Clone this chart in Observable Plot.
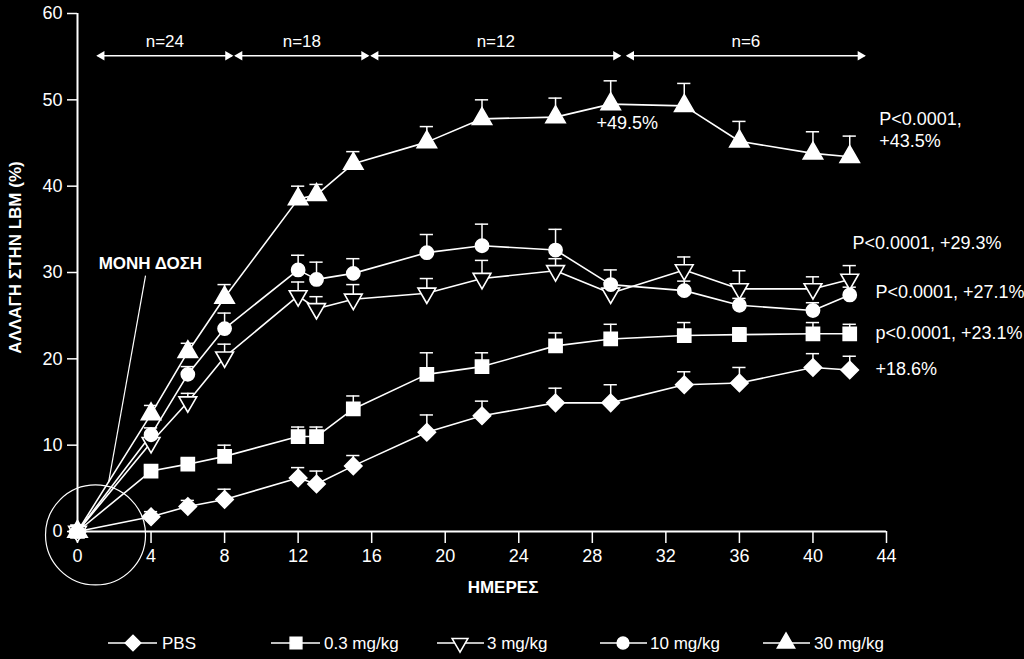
<!DOCTYPE html>
<html>
<head>
<meta charset="utf-8">
<script src="https://cdn.jsdelivr.net/npm/d3@7"></script>
<script src="https://cdn.jsdelivr.net/npm/@observablehq/plot@0.6"></script>
<style>
  html, body { margin: 0; padding: 0; background: #000; }
  #wrap { width: 1024px; height: 659px; position: relative; background: #000; overflow: hidden; }
  #legend { position: absolute; left: 0; top: 610px; }
</style>
</head>
<body>
<div id="wrap"><div id="chart"></div><div id="legend"></div></div>
<script>
// ---------- data ----------
const days = [0, 4, 6, 8, 12, 13, 15, 19, 22, 26, 29, 33, 36, 40, 42];
const seriesNames = ["PBS", "0.3 mg/kg", "3 mg/kg", "10 mg/kg", "30 mg/kg"];
const pbs      = [0, 1.7, 2.9, 3.7, 6.2, 5.5, 7.6, 11.5, 13.4, 14.9, 14.9, 17.0, 17.2, 19.0, 18.7];
const pbsErr   = [0, 2.3, 3.6, 4.9, 7.4, 7.0, 8.8, 13.5, 15.1, 16.6, 17.0, 18.5, 19.0, 20.6, 20.3];
const dose03    = [0, 7.0, 7.8, 8.7, 11.0, 11.0, 14.2, 18.2, 19.1, 21.5, 22.3, 22.7, 22.8, 22.9, 22.9];
const dose03Err = [0, 7.6, 8.4, 10.0, 12.1, 12.1, 15.7, 20.7, 20.7, 23.0, 24.0, 24.2, 23.6, 24.2, 24.0];
const dose3    = [0, 10.3, 15.0, 20.2, 27.3, 25.8, 26.9, 27.6, 29.3, 30.2, 27.6, 30.3, 28.1, 28.1, 29.2];
const dose3Err = [0, 11.0, 16.0, 21.7, 28.9, 27.2, 28.6, 29.3, 31.4, 31.6, 28.8, 31.8, 30.2, 29.5, 30.8];
const dose10    = [0, 11.2, 18.2, 23.5, 30.3, 29.2, 29.9, 32.3, 33.1, 32.6, 28.6, 27.9, 26.2, 25.6, 27.4];
const dose10Err = [0, 12.0, 19.1, 25.3, 32.0, 31.2, 31.6, 34.4, 35.6, 35.0, 30.3, 29.0, 27.0, 26.5, 28.3];
const dose30    = [0, 13.6, 20.8, 27.1, 38.5, 39.0, 42.6, 45.1, 47.8, 48.0, 49.5, 49.3, 45.2, 43.8, 43.4];
const dose30Err = [0, 14.6, 21.8, 28.6, 40.0, 40.2, 44.0, 46.9, 50.0, 50.2, 52.2, 51.9, 47.5, 46.3, 45.8];

const xTicks = [0, 4, 8, 12, 16, 20, 24, 28, 32, 36, 40, 44];
const yTicks = [0, 10, 20, 30, 40, 50, 60];

const nLabels = ["n=24", "n=18", "n=12", "n=6"];
const nStart  = [1.1, 8.6, 16.0, 29.9];
const nEnd    = [8.4, 15.8, 29.5, 42.8];

const peakLabel = "+49.5%";
const peakX = 29.9, peakY = 47.3;
const endLabels = ["P<0.0001,", "+43.5%", "P<0.0001, +29.3%", "P<0.0001, +27.1%", "p<0.0001, +23.1%", "+18.6%"];
const endLabelX = [43.6, 43.6, 42.15, 43.4, 43.4, 43.4];
const endLabelY = [47.7, 45.2, 33.4, 27.7, 23.0, 18.8];

const yLabel = "ΑΛΛΑΓΗ ΣΤΗΝ LBM (%)";
const xLabel = "ΗΜΕΡΕΣ";
const doseNote = "ΜΟΝΗ ΔΟΣΗ";

// ---------- build tables ----------
const valueSets = [pbs, dose03, dose3, dose10, dose30];
const errSets = [pbsErr, dose03Err, dose3Err, dose10Err, dose30Err];
const rows = [];
seriesNames.forEach((name, i) => {
  days.forEach((day, j) => rows.push({series: name, day, value: valueSets[i][j], err: errSets[i][j]}));
});
const errRows = rows.filter(d => d.day > 0);
const nRanges = nLabels.map((label, i) => ({label, start: nStart[i], end: nEnd[i], mid: (nStart[i] + nEnd[i]) / 2}));
const endTexts = endLabels.map((t, i) => ({t, x: endLabelX[i], y: endLabelY[i]}));

const markStyle = {
  "PBS":       {symbol: "diamond2", r: 7.8, fill: "white", stroke: "white", rotate: 0},
  "0.3 mg/kg": {symbol: "square", r: 7.4, fill: "white", stroke: "white", rotate: 0},
  "3 mg/kg":   {symbol: "triangle", r: 6.6, fill: "black", stroke: "white", rotate: 180},
  "10 mg/kg":  {symbol: "circle", r: 6.6, fill: "white", stroke: "white", rotate: 0},
  "30 mg/kg":  {symbol: "triangle", r: 7.2, fill: "white", stroke: "white", rotate: 0}
};

const font = "'Liberation Sans', Arial, sans-serif";
const W = "white";

const dotMarks = seriesNames.map(name => {
  const s = markStyle[name];
  return Plot.dot(rows.filter(d => d.series === name), {
    x: "day", y: "value", symbol: s.symbol, r: s.r, fill: s.fill, stroke: s.stroke,
    strokeWidth: 1.6, rotate: s.rotate
  });
});

const chart = Plot.plot({
  width: 1024,
  height: 610,
  marginLeft: 77,
  marginRight: 138,
  marginTop: 13,
  marginBottom: 79,
  style: {background: "black", color: W, fontFamily: font, fontSize: "18px", overflow: "visible"},
  x: {domain: [0, 44]},
  y: {domain: [0, 60]},
  marks: [
    Plot.axisX({ticks: xTicks, tickSize: 12, tickPadding: 6, label: null, stroke: W, fill: W, strokeWidth: 1.5}),
    Plot.axisY({ticks: yTicks, tickSize: 10, tickPadding: 5, label: null, stroke: W, fill: W, strokeWidth: 1.5}),
    Plot.ruleX([0], {stroke: W, strokeWidth: 2}),
    Plot.ruleY([0], {stroke: W, strokeWidth: 2}),
    // circle around origin
    Plot.dot([{x: 0.98, y: -0.4}], {x: "x", y: "y", r: 50, fill: "none", stroke: W, strokeWidth: 1.2}),
    // single dose pointer
    Plot.link([{x1: 3.7, y1: 29.65, x2: 1.69, y2: 5.68}], {x1: "x1", y1: "y1", x2: "x2", y2: "y2", stroke: W, strokeWidth: 1.2}),
    Plot.text([doseNote], {x: 1.15, y: 31.0, text: d => d, textAnchor: "start", fill: W, fontWeight: "bold", fontSize: 17}),
    // n ranges
    Plot.link(nRanges, {x1: "start", x2: "end", y1: 55.1, y2: 55.1, stroke: W, strokeWidth: 1.5}),
    Plot.dot(nRanges, {x: "start", y: 55.1, symbol: "triangle2", r: 4.5, rotate: -90, fill: W, dx: 4}),
    Plot.dot(nRanges, {x: "end", y: 55.1, symbol: "triangle2", r: 4.5, rotate: 90, fill: W, dx: -4}),
    Plot.text(nRanges, {x: "mid", y: 56.7, text: "label", fill: W, fontSize: 17}),
    // lines
    Plot.line(rows, {x: "day", y: "value", z: "series", stroke: W, strokeWidth: 1.6}),
    // error bars
    Plot.ruleX(errRows, {x: "day", y1: "value", y2: "err", stroke: W, strokeWidth: 1.5}),
    Plot.ruleY(errRows, {y: "err", x1: d => d.day - 0.36, x2: d => d.day + 0.36, stroke: W, strokeWidth: 1.5}),
    ...dotMarks,
    // end labels
    Plot.text([peakLabel], {x: peakX, y: peakY, text: d => d, textAnchor: "middle", fill: W, fontSize: 18}),
    Plot.text(endTexts, {x: "x", y: "y", text: "t", textAnchor: "start", fill: W, fontSize: 18}),
    // axis titles
    Plot.text([yLabel], {frameAnchor: "left", text: d => d, textAnchor: "middle", rotate: -90, dx: -62, dy: -15, fill: W, fontWeight: "bold", fontSize: 17}),
    Plot.text([xLabel], {frameAnchor: "bottom", text: d => d, textAnchor: "middle", dx: 21, dy: 61, fill: W, fontWeight: "bold", fontSize: 17})
  ]
});
document.getElementById("chart").appendChild(chart);

// ---------- legend ----------
const legendPos = [
  {x1: 108, x2: 157, m: 133, t: 162},
  {x1: 271, x2: 320, m: 296, t: 324},
  {x1: 437, x2: 484, m: 460, t: 487},
  {x1: 600, x2: 647, m: 623, t: 650},
  {x1: 763, x2: 810, m: 786, t: 814}
];
const symbolMap = {diamond2: d3.symbolDiamond2, square: d3.symbolSquare, triangle: d3.symbolTriangle, circle: d3.symbolCircle};
const lsvg = d3.select("#legend").append("svg").attr("width", 1024).attr("height", 49)
  .style("font-family", font).style("font-size", "17px");
const ly = 33;
seriesNames.forEach((name, i) => {
  const p = legendPos[i], s = markStyle[name];
  const g = lsvg.append("g");
  g.append("line").attr("x1", p.x1).attr("x2", p.x2).attr("y1", ly).attr("y2", ly).attr("stroke", W).attr("stroke-width", 1.5);
  g.append("path").attr("d", d3.symbol(symbolMap[s.symbol], Math.PI * s.r * s.r * 0.8)())
    .attr("transform", `translate(${p.m},${ly}) rotate(${s.rotate})`)
    .attr("fill", s.fill).attr("stroke", s.stroke).attr("stroke-width", 1.5);
  g.append("text").attr("x", p.t).attr("y", ly).attr("dy", "0.35em").attr("fill", W).text(name);
});
</script>
</body>
</html>
